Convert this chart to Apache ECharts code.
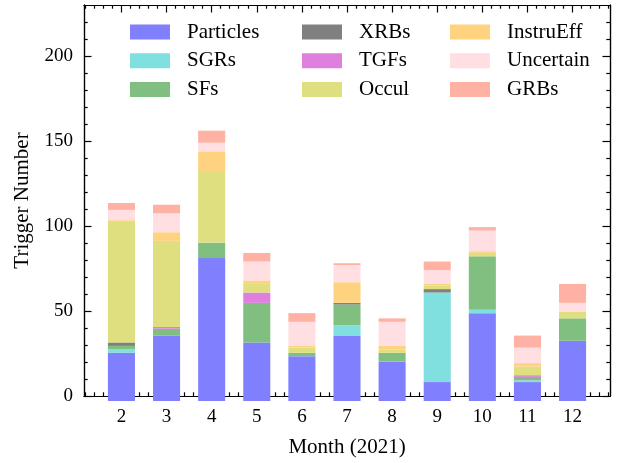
<!DOCTYPE html>
<html>
<head>
<meta charset="utf-8">
<script src="https://cdn.jsdelivr.net/npm/echarts@6/dist/echarts.min.js"></script>
<style>html,body{margin:0;padding:0;background:#fff}#c{width:623px;height:463px}</style>
</head>
<body>
<div id="c"></div>
<script>
const months = [2,3,4,5,6,7,8,9,10,11,12];
const particles = [28,38,83,34,26,38,23,11,51,11,35];
const sgrs      = [2,0,0,0,0,6,0,52,2,1,0];
const sfs       = [2,4,9,23,2,12,5,0,31,2,13];
const xrbs      = [2,0,0,0,0,1,0,2,0,0,0];
const tgfs      = [0,1,0,6,0,0,0,0,0,1,0];
const occul     = [70,50,41,5,3,0,2,2,2,5,4];
const instruEff = [1,5,12,2,1,12,2,1,1,2,0];
const uncertain = [6,11,5,11,14,10,14,8,12,9,5];
const grbs      = [4,5,7,5,5,1,2,5,2,7,11];
const seriesNames = ['Particles','SGRs','SFs','XRBs','TGFs','Occul','InstruEff','Uncertain','GRBs'];
const seriesValues = [particles,sgrs,sfs,xrbs,tgfs,occul,instruEff,uncertain,grbs];
const colors = ['#8080ff','#80dfdf','#80bf80','#808080','#df80df','#dfdf80','#ffd280','#ffdfe1','#ffb1a3'];
const yMajor = [0,50,100,150,200];
const xMin = 1.17, xMax = 12.83, yMax = 230;

const FONT = 'Liberation Serif';
const FS_TICK = 19;
const FS_TEXT = 21;
const W = 623, H = 463;
const gridL = 84, gridR = 13, gridT = 5, gridB = 62;
const gridW = W - gridL - gridR;
const unit = gridW / (xMax - xMin);
// bar grid: category bands of one month each, aligned to the value scale
const barGridL = gridL + (months[0] - 0.5 - xMin) * unit;
const barGridW = months.length * unit;

const xMinor = [];
for (let v = 12; v <= 128; v += 2) { if (v % 10 !== 0) xMinor.push(v / 10); }
const yMinor = [];
for (let v = 10; v < yMax; v += 10) { if (v % 50 !== 0) yMinor.push(v); }

const lineStyle = {color:'#000', width:1.2};
function xAx(pos, ticks, len, labels) {
  return {
    type:'value', gridIndex:0, position:pos, min:xMin, max:xMax,
    axisLine:{show:true, onZero:false, lineStyle},
    axisTick:{show:true, inside:true, length:len, customValues:ticks, lineStyle:{color:'#000', width:1.2}},
    axisLabel: labels ? {show:true, customValues:months, margin:12, color:'#000', fontFamily:FONT, fontSize:FS_TICK} : {show:false},
    splitLine:{show:false},
    name: (labels && pos==='bottom') ? 'Month (2021)' : '',
    nameLocation:'middle', nameGap:41,
    nameTextStyle:{color:'#000', fontFamily:FONT, fontSize:FS_TEXT}
  };
}
function yAx(pos, ticks, len, labels) {
  return {
    type:'value', gridIndex:0, position:pos, min:0, max:yMax,
    axisLine:{show:true, onZero:false, lineStyle},
    axisTick:{show:true, inside:true, length:len, customValues:ticks, lineStyle:{color:'#000', width:1.2}},
    axisLabel: labels ? {show:true, customValues:yMajor, margin:11, color:'#000', fontFamily:FONT, fontSize:FS_TICK} : {show:false},
    splitLine:{show:false},
    name: (labels && pos==='left') ? 'Trigger Number' : '',
    nameLocation:'middle', nameGap:51,
    nameTextStyle:{color:'#000', fontFamily:FONT, fontSize:FS_TEXT}
  };
}

function legendCol(left, names) {
  return {
    orient:'vertical', left:left, top:21.5, padding:0,
    itemWidth:40, itemHeight:15, itemGap:7.7,
    icon:'rect', selectedMode:false,
    data:names,
    textStyle:{color:'#000', fontFamily:FONT, fontSize:FS_TEXT, lineHeight:20, padding:[0,0,0,12]}
  };
}

const chart = echarts.init(document.getElementById('c'), null, {renderer:'canvas'});
chart.setOption({
  animation:false,
  backgroundColor:'#fff',
  grid:[
    {left:gridL, right:gridR, top:gridT, bottom:gridB, containLabel:false},
    {left:barGridL, width:barGridW, top:gridT, bottom:gridB, containLabel:false}
  ],
  xAxis:[
    xAx('bottom', months, 7.5, true),
    xAx('bottom', xMinor, 3.7, false),
    xAx('top', months, 7.5, false),
    xAx('top', xMinor, 3.7, false),
    {type:'category', gridIndex:1, data:months, boundaryGap:true, show:false}
  ],
  yAxis:[
    yAx('left', yMajor, 7.5, true),
    yAx('left', yMinor, 3.7, false),
    yAx('right', yMajor, 7.5, false),
    yAx('right', yMinor, 3.7, false),
    {type:'value', gridIndex:1, min:0, max:yMax, show:false, splitLine:{show:false}}
  ],
  legend:[
    legendCol(130, seriesNames.slice(0,3)),
    legendCol(302, seriesNames.slice(3,6)),
    legendCol(450, seriesNames.slice(6,9))
  ],
  series: seriesNames.map((n,i)=>({
    name:n, type:'bar', stack:'all', xAxisIndex:4, yAxisIndex:4,
    barWidth:'60%',
    itemStyle:{color:colors[i]},
    data: seriesValues[i]
  }))
});
</script>
</body>
</html>
